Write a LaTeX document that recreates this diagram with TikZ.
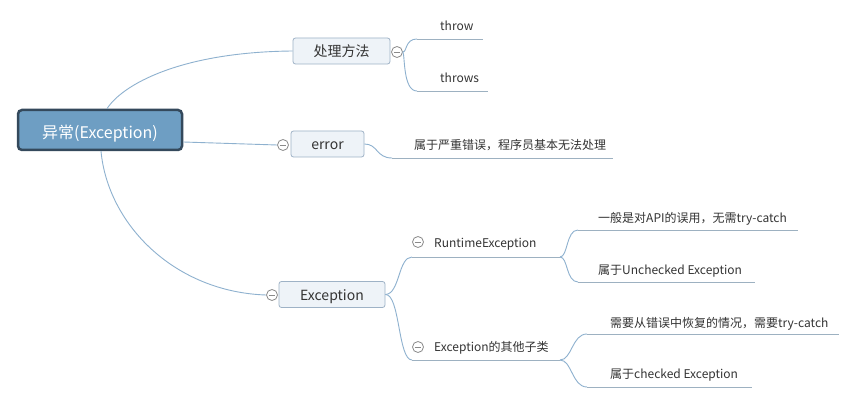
\documentclass[tikz,border=0pt]{standalone}
\usepackage{fontspec}
\setmainfont{Noto Sans CJK SC}
\definecolor{connc}{HTML}{8EB1CF}
\definecolor{ulc}{HTML}{9DB1C1}
\definecolor{boxfill}{HTML}{EEF3F8}
\definecolor{boxdraw}{HTML}{9EB2C6}
\definecolor{rootfill}{HTML}{6E9EC3}
\definecolor{rootdraw}{HTML}{34495C}
\definecolor{txt}{HTML}{333333}
\definecolor{circc}{HTML}{8A8A8A}
\begin{document}
\begin{tikzpicture}[x=1pt,y=-1pt,
  conn/.style={draw=connc,line width=0.9pt},
  ul/.style={draw=ulc,line width=0.9pt},
  rootbox/.style={draw=rootdraw,line width=2.5pt,fill=rootfill,rounded corners=4pt,
    minimum width=164pt,minimum height=40pt,inner sep=0pt,text height=17pt,text depth=0pt,
    text=white,font=\fontsize{16}{18}\selectfont},
  subbox/.style={draw=boxdraw,line width=0.8pt,fill=boxfill,rounded corners=2.5pt,
    minimum height=26pt,inner sep=0pt,text height=12.5pt,text depth=1pt,
    text=txt,font=\fontsize{14}{16}\selectfont},
  lbl/.style={anchor=base west,inner sep=0pt,text=txt,font=\fontsize{12}{14}\selectfont},
  collapse/.style={circle,draw=circc,fill=white,line width=0.8pt,minimum size=11pt,inner sep=0pt},
  minus/.style={draw=circc,line width=0.8pt}
]
\useasboundingbox (0,0) rectangle (860,406);
\fill[white] (0,0) rectangle (860,406);

% root
\node[rootbox] (root) at (100,130) {异常(Exception)};

% 处理方法
\node[subbox,minimum width=97pt] (fm) at (341.5,51) {处理方法};
\node[collapse] (cfm) at (397,52) {};
\draw[minus] ([xshift=2.5pt]cfm.west) -- ([xshift=-2.5pt]cfm.east);
\node[lbl] (throw) at (440,31) {throw};
\node[lbl] (throws) at (440,83) {throws};
\coordinate (u1a) at (417,39); \coordinate (u1b) at (483,39);
\coordinate (u2a) at (417,91); \coordinate (u2b) at (488,91);
\draw[conn] ([xshift=7pt]root.north) .. controls (122,85) and (180,52) .. (fm.west);
\draw[conn] (cfm.east) .. controls (407,52) and (405,39) .. (u1a);
\draw[ul] (u1a) -- (u1b);
\draw[conn] (cfm.east) .. controls (405,56) and (403,91) .. (u2a);
\draw[ul] (u2a) -- (u2b);

% error
\node[subbox,minimum width=73pt] (err) at (327.5,144) {error};
\node[collapse] (cerr) at (283,145) {};
\draw[minus] ([xshift=2.5pt]cerr.west) -- ([xshift=-2.5pt]cerr.east);
\draw[conn] ([yshift=-12pt]root.east) -- (cerr.west);
\node[lbl] (errl) at (414,149.5) {属于严重错误，程序员基本无法处理};
\coordinate (u3a) at (392,158); \coordinate (u3b) at (613,158);
\draw[conn] (err.east) .. controls (378,144) and (376,158) .. (u3a);
\draw[ul] (u3a) -- (u3b);

% Exception
\node[subbox,minimum width=106pt] (exc) at (332,294.5) {Exception};
\node[collapse] (cexc) at (272,295) {};
\draw[minus] ([xshift=2.5pt]cexc.west) -- ([xshift=-2.5pt]cexc.east);
\draw[conn] ([xshift=1pt]root.south) .. controls (108,225) and (175,292) .. (cexc.west);

% RuntimeException
\node[collapse] (crt) at (418,242) {};
\draw[minus] ([xshift=2.5pt]crt.west) -- ([xshift=-2.5pt]crt.east);
\node[lbl] (rt) at (434,248) {RuntimeException};
\coordinate (rta) at (412,257); \coordinate (rtb) at (560,257);
\draw[conn] (exc.east) .. controls (400,294) and (398,257) .. (rta);
\draw[ul] (rta) -- (rtb);
\node[lbl] (rt1) at (598,222.5) {一般是对API的误用，无需try-catch};
\node[lbl] (rt2) at (598,274.5) {属于Unchecked Exception};
\coordinate (r1a) at (578,230); \coordinate (r1b) at (798,230);
\coordinate (r2a) at (578,282); \coordinate (r2b) at (755,282);
\draw[conn] (rtb) .. controls (568,257) and (566,230) .. (r1a);
\draw[ul] (r1a) -- (r1b);
\draw[conn] (rtb) .. controls (568,257) and (566,282) .. (r2a);
\draw[ul] (r2a) -- (r2b);

% Exception的其他子类
\node[collapse] (cot) at (418,347) {};
\draw[minus] ([xshift=2.5pt]cot.west) -- ([xshift=-2.5pt]cot.east);
\node[lbl] (ot) at (434,352) {Exception的其他子类};
\coordinate (ota) at (412,360); \coordinate (otb) at (560,360);
\draw[conn] (exc.east) .. controls (400,294) and (398,360) .. (ota);
\draw[ul] (ota) -- (otb);
\node[lbl] (ot1) at (610,327) {需要从错误中恢复的情况，需要try-catch};
\node[lbl] (ot2) at (610,378.5) {属于checked Exception};
\coordinate (o1a) at (587,334); \coordinate (o1b) at (839,334);
\coordinate (o2a) at (587,387); \coordinate (o2b) at (752,387);
\draw[conn] (otb) .. controls (572,360) and (572,334) .. (o1a);
\draw[ul] (o1a) -- (o1b);
\draw[conn] (otb) .. controls (572,360) and (572,387) .. (o2a);
\draw[ul] (o2a) -- (o2b);
\end{tikzpicture}
\end{document}
